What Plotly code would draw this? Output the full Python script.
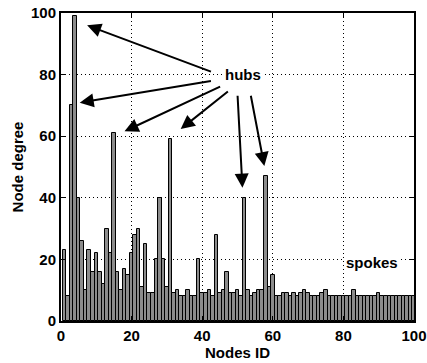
import plotly.graph_objects as go

node_ids = list(range(1, 101))
degrees = [
    23, 8, 70, 99, 40, 26, 10, 23, 16, 22,
    16, 12, 30, 22, 61, 16, 10, 17, 15, 22,
    28, 30, 11, 25, 9, 9, 20, 40, 20, 11,
    59, 9, 10, 8, 8, 10, 8, 8, 20, 9,
    9, 10, 8, 28, 9, 10, 16, 9, 9, 10,
    8, 40, 10, 8, 9, 10, 10, 47, 11, 15,
    8, 8, 9, 9, 8, 9, 8, 9, 10, 9,
    8, 8, 8, 9, 10, 8, 8, 8, 8, 8,
    8, 8, 10, 8, 8, 8, 8, 8, 8, 9,
    8, 8, 8, 8, 8, 8, 8, 8, 8, 8,
]
x_ticks = [0, 20, 40, 60, 80, 100]
y_ticks = [0, 20, 40, 60, 80, 100]

# hub arrows: (tail_x, tail_y, head_x, head_y) in data units
hub_arrows = [
    (42.9, 80.8, 7.4, 96.0),
    (42.9, 78.0, 5.3, 70.9),
    (45.5, 76.3, 18.0, 61.6),
    (47.7, 74.9, 33.9, 62.3),
    (50.0, 73.6, 51.4, 43.3),
    (53.7, 73.6, 57.6, 50.3),
]

font_family = "Liberation Sans, Arial, sans-serif"

fig = go.Figure()
fig.add_trace(go.Bar(
    x=node_ids, y=degrees,
    marker=dict(color="#8c8c8c", line=dict(color="black", width=1)),
    showlegend=False,
))

for tx, ty, hx, hy in hub_arrows:
    fig.add_annotation(
        x=hx, y=hy, ax=tx, ay=ty, xref="x", yref="y", axref="x", ayref="y",
        text="", showarrow=True, arrowhead=2, arrowsize=1.4, arrowwidth=2,
        arrowcolor="black", standoff=0,
    )

fig.add_annotation(x=51.5, y=80.0, xref="x", yref="y", text="<b>hubs</b>",
                   showarrow=False, bgcolor="white",
                   font=dict(family=font_family, size=15, color="black"))
fig.add_annotation(x=88.2, y=19.1, xref="x", yref="y", text="<b>spokes</b>",
                   showarrow=False, bgcolor="white",
                   font=dict(family=font_family, size=15, color="black"))

axis_common = dict(
    showline=True, linecolor="black", linewidth=2, mirror="ticks",
    ticks="inside", ticklen=5, tickcolor="black", tickwidth=1,
    showgrid=True, gridcolor="black", griddash="1px,3px", gridwidth=1,
    zeroline=False, automargin=False,
    tickfont=dict(family=font_family, size=15, color="black"),
)

fig.update_xaxes(
    range=[0, 100], tickvals=x_ticks, ticktext=[f"<b>{v}</b>" for v in x_ticks],
    title=dict(text="<b>Nodes ID</b>", standoff=0,
               font=dict(family=font_family, size=15, color="black")),
    **axis_common,
)
fig.update_yaxes(
    range=[0, 100], tickvals=y_ticks, ticktext=[f"<b>{v}</b>" for v in y_ticks],
    title=dict(text="<b>Node degree</b>", standoff=4,
               font=dict(family=font_family, size=15, color="black")),
    **axis_common,
)

fig.update_layout(
    width=427, height=363,
    margin=dict(l=61, r=13, t=13, b=42),
    plot_bgcolor="white", paper_bgcolor="white",
    bargap=0,
    font=dict(family=font_family, color="black"),
)

fig.write_html("out.html")
